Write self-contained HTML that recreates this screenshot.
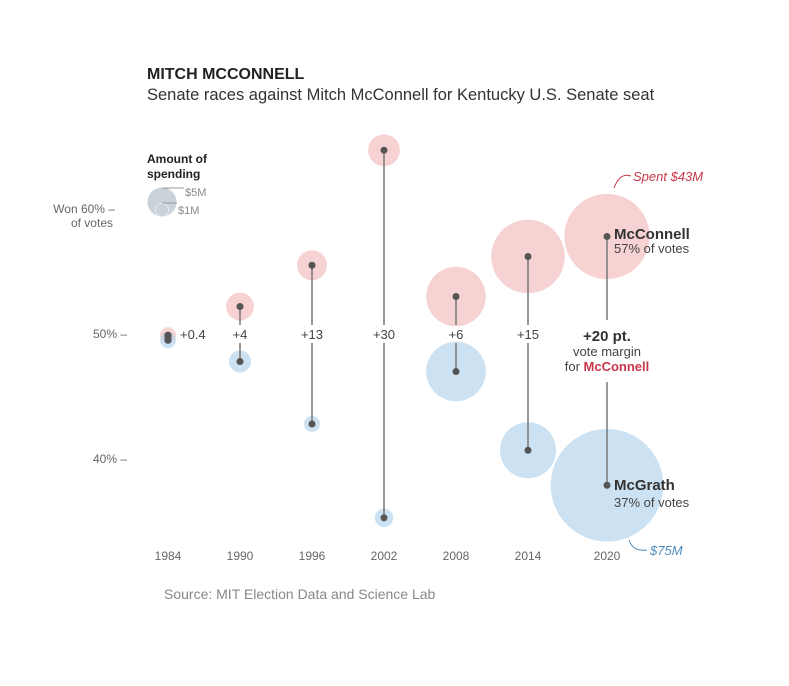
<!DOCTYPE html>
<html><head><meta charset="utf-8"><style>
body{margin:0;background:#fff;font-family:"Liberation Sans",sans-serif}
svg text{font-family:"Liberation Sans",sans-serif}
</style></head><body>
<svg id="c" width="789" height="681" viewBox="0 0 789 681" xmlns="http://www.w3.org/2000/svg">
<text x="147" y="79" font-size="16" font-weight="bold" fill="#222">MITCH MCCONNELL</text>
<text x="147" y="100" font-size="16.5" fill="#333">Senate races against Mitch McConnell for Kentucky U.S. Senate seat</text>
<g>
<text x="115" y="213" font-size="12" fill="#666" text-anchor="end">Won 60% –</text>
<text x="113" y="227" font-size="12" fill="#666" text-anchor="end">of votes</text>
<text x="127" y="338" font-size="12" fill="#666" text-anchor="end">50% –</text>
<text x="127" y="463" font-size="12" fill="#666" text-anchor="end">40% –</text>
</g>
<g>
<text x="147" y="163" font-size="12" font-weight="bold" fill="#222">Amount of</text>
<text x="147" y="178" font-size="12" font-weight="bold" fill="#222">spending</text>
<circle cx="162" cy="202" r="14.5" fill="#c9d1d9"/>
<circle cx="162" cy="210" r="6.5" fill="#c9d1d9" stroke="#e8ecef" stroke-width="1"/>
<line x1="162" y1="188" x2="184" y2="188" stroke="#999"/>
<line x1="162" y1="203" x2="177" y2="203" stroke="#999"/>
<text x="185" y="196" font-size="11" fill="#888">$5M</text>
<text x="178" y="214" font-size="11" fill="#888">$1M</text>
</g>
<g id="marks"></g>
<g>
<text x="614" y="239" font-size="15" font-weight="bold" fill="#333">McConnell</text>
<text x="614" y="253" font-size="13" fill="#444">57% of votes</text>
<text x="614" y="490" font-size="15" font-weight="bold" fill="#333">McGrath</text>
<text x="614" y="507" font-size="13" fill="#444">37% of votes</text>
<text x="607" y="341" font-size="15" font-weight="bold" fill="#333" text-anchor="middle">+20 pt.</text>
<text x="607" y="356" font-size="13" fill="#444" text-anchor="middle">vote margin</text>
<text x="607" y="371" font-size="13" fill="#444" text-anchor="middle">for <tspan fill="#c9374a" font-weight="bold">McConnell</tspan></text>
<text x="633" y="181" font-size="13" font-style="italic" fill="#c9374a">Spent $43M</text>
<path d="M631,176 Q620,172 614,188" fill="none" stroke="#c9374a"/>
<text x="650" y="555" font-size="13" font-style="italic" fill="#4d8cbd">$75M</text>
<path d="M647,550 Q633,552 629,540" fill="none" stroke="#4d8cbd"/>
</g>
<text x="164" y="599" font-size="14" fill="#888">Source: MIT Election Data and Science Lab</text>
</svg>
<script>
const years=["1984","1990","1996","2002","2008","2014","2020"];
const repVotes=[49.9,52.2,55.5,64.7,53.0,56.2,57.8];
const demVotes=[49.5,47.8,42.8,35.3,47.0,40.7,37.9];
const repSpend=[1.5,4.6,5.3,6,21,32,43];
const demSpend=[1.5,2.9,1.5,2,21,18.6,75];
const margins=["+0.4","+4","+13","+30","+6","+15",""];
const NS="http://www.w3.org/2000/svg";
const x=i=>168+72*i+(i===6?7:0);
const y=v=>334-(v-50)*12.5;
const r=m=>6.5*Math.sqrt(m);
const g=document.getElementById('marks');
function mk(t,a){const e=document.createElementNS(NS,t);for(const k in a)e.setAttribute(k,a[k]);g.appendChild(e);return e;}
years.forEach((yr,i)=>{
 const cx=x(i);
 const c1=mk('circle',{cx:cx,cy:y(repVotes[i]),r:r(repSpend[i]),fill:'rgba(240,180,180,0.6)'});
 
 
 const c2=mk('circle',{cx:cx,cy:y(demVotes[i]),r:r(demSpend[i]),fill:'rgba(170,205,232,0.6)'});
 
 
 const y1=y(repVotes[i]),y2=y(demVotes[i]);
 if(i===0){
  const l=mk('line',{x1:cx,y1:y1,x2:cx,y2:y2,stroke:'#555','stroke-width':7,'stroke-linecap':'round'});
  
  
 } else {
  const gapTop=i===6?320:325, gapBot=i===6?382:343;
  if(y1<gapTop){const l1=mk('line',{x1:cx,y1:y1,x2:cx,y2:Math.min(y2,gapTop),stroke:'#777','stroke-width':1.5});
  
  }
  if(y2>gapBot){const l2=mk('line',{x1:cx,y1:Math.max(y1,gapBot),x2:cx,y2:y2,stroke:'#777','stroke-width':1.5});
  
  }
 }
 const d1=mk('circle',{cx:cx,cy:y1,r:3.5,fill:'#555'});
 
 
 const d2=mk('circle',{cx:cx,cy:y2,r:3.5,fill:'#555'});
 
 
 if(margins[i]){
  const t=mk('text',{x:i===0?cx+12:cx,y:339,'font-size':13,fill:'#444','text-anchor':i===0?'start':'middle'});
  t.textContent=margins[i];
  
  
 }
 const yl=mk('text',{x:cx,y:560,'font-size':12,fill:'#666','text-anchor':'middle'});
 yl.textContent=yr;
 
 
});
</script>
</body></html>
